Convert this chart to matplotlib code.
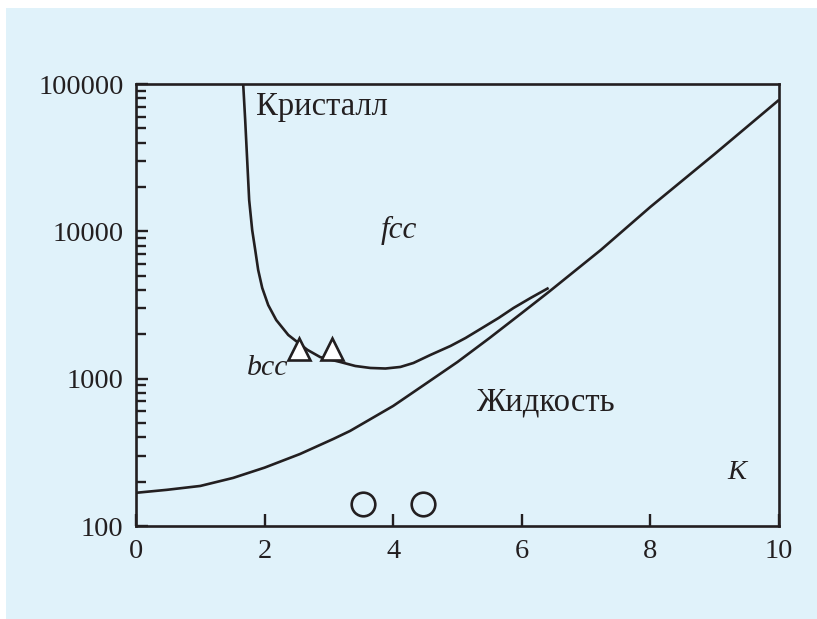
import numpy as np
import matplotlib
matplotlib.use('Agg')
import matplotlib.pyplot as plt
from matplotlib.patches import Rectangle
from matplotlib.ticker import FixedLocator, FixedFormatter, LogLocator, NullFormatter

# crystal / liquid boundary (upper branch, fcc-bcc)
crystal_x = [1.667, 1.698, 1.729, 1.760, 1.807, 1.854, 1.900, 1.963, 2.056, 2.181,
             2.368, 2.664, 2.866, 3.178, 3.411, 3.645, 3.879, 4.112, 4.315, 4.579,
             4.891, 5.125, 5.358, 5.639, 5.872, 6.137, 6.417]
crystal_y = [100000, 57000, 30500, 16300, 10200, 7480, 5470, 4130, 3160, 2500,
             1980, 1570, 1400, 1297, 1219, 1182, 1172, 1201, 1278, 1449,
             1667, 1888, 2175, 2582, 3020, 3530, 4130]

# lower branch
liquid_x = [0.0, 0.48, 1.0, 1.51, 2.0, 2.55, 3.07, 3.33, 4.0, 4.5, 5.0, 5.5,
            6.0, 6.42, 7.23, 8.0, 9.0, 10.0]
liquid_y = [168, 176, 187, 212, 249, 308, 390, 442, 653, 920, 1298, 1890,
            2790, 3880, 7480, 14650, 33500, 78000]

tri_x = [2.54, 3.05]
tri_y = [1590, 1590]
circ_x = [3.53, 4.46]
circ_y = [141, 141]

ytick_vals = [100, 1000, 10000, 100000]
ytick_labels = ['100', '1000', '10000', '100000']
xtick_vals = [0, 2, 4, 6, 8, 10]

INK = '#231f20'
BG = '#e0f2fa'

plt.rcParams['font.family'] = ['Liberation Serif', 'DejaVu Serif']

fig = plt.figure(figsize=(8.17, 6.19), dpi=100, facecolor='white')
bg = Rectangle((6 / 817, 0), 1, 1 - 8 / 619, transform=fig.transFigure,
               facecolor=BG, edgecolor='none', zorder=-10)
fig.add_artist(bg)

ax = fig.add_axes([136 / 817, 1 - 526 / 619, 643 / 817, 442 / 619])
ax.set_facecolor('none')
ax.set_yscale('log')
ax.set_xlim(0, 10)
ax.set_ylim(100, 100000)

ax.plot(crystal_x, crystal_y, color=INK, lw=1.9, solid_capstyle='butt', solid_joinstyle='round')
ax.plot(liquid_x, liquid_y, color=INK, lw=1.9, solid_capstyle='butt', solid_joinstyle='round')
ax.plot(tri_x, tri_y, linestyle='none', marker='^', markersize=16,
        markerfacecolor='white', markeredgecolor=INK, markeredgewidth=1.9, zorder=5)
ax.plot(circ_x, circ_y, linestyle='none', marker='o', markersize=17,
        markerfacecolor='none', markeredgecolor=INK, markeredgewidth=1.9, zorder=5)

ax.text(1.87, 70000, 'Кристалл', fontsize=23.5, color=INK, ha='left', va='center')
ax.text(6.37, 695, 'Жидкость', fontsize=23.5, color=INK, ha='center', va='center')
ax.text(4.08, 10200, 'fcc', fontsize=22.5, color=INK, ha='center', va='center', style='italic')
ax.text(2.04, 1180, 'bcc', fontsize=21.5, color=INK, ha='center', va='center', style='italic')
ax.text(9.35, 229, 'K', fontsize=20.5, color=INK, ha='center', va='center', style='italic')

for s in ax.spines.values():
    s.set_linewidth(1.9)
    s.set_color(INK)

ax.yaxis.set_major_locator(FixedLocator(ytick_vals))
ax.yaxis.set_major_formatter(FixedFormatter(ytick_labels))
ax.yaxis.set_minor_locator(LogLocator(base=10, subs=np.arange(2, 10)))
ax.yaxis.set_minor_formatter(NullFormatter())
ax.xaxis.set_major_locator(FixedLocator(xtick_vals))
ax.set_xticklabels([str(v) for v in xtick_vals])

ax.tick_params(axis='both', which='major', direction='in', length=8.5, width=1.7,
               color=INK, labelsize=20.5, labelcolor=INK, pad=9)
ax.tick_params(axis='y', which='minor', direction='in', length=7, width=1.7, color=INK)
ax.tick_params(top=False, right=False, which='both')

fig.savefig('out.png', dpi=100)
